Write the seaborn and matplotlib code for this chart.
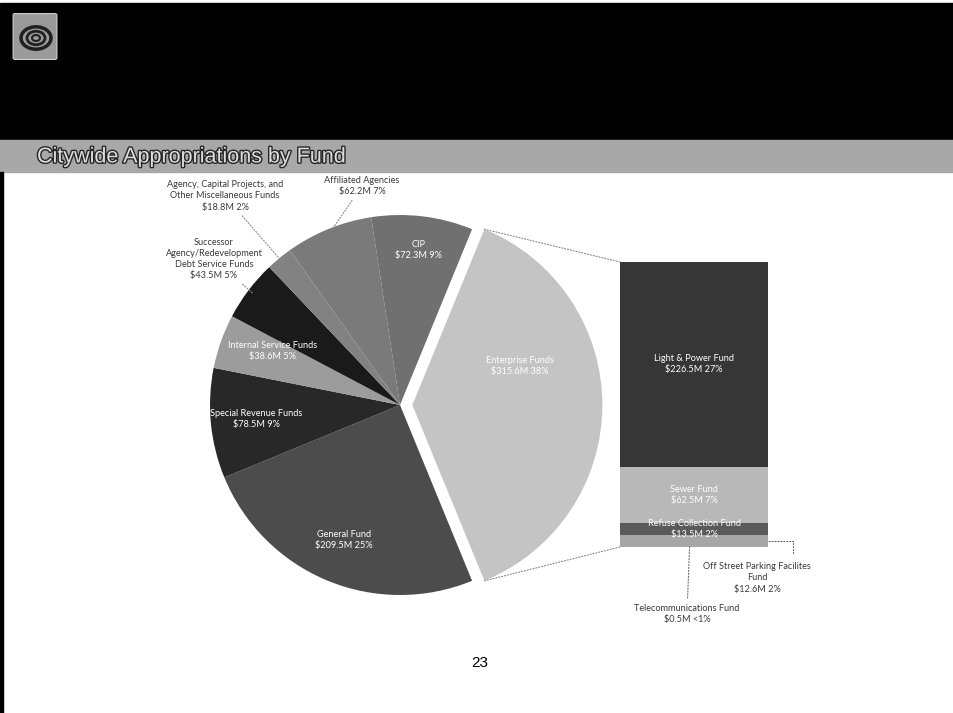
import numpy as np
import matplotlib
matplotlib.use("Agg")
import matplotlib.pyplot as plt
import seaborn as sns
from matplotlib.patches import Rectangle, FancyBboxPatch, Circle, ConnectionPatch
import matplotlib.patheffects as pe

# ---------------- data ----------------
pie_labels = ["Enterprise Funds", "General Fund", "Special Revenue Funds",
              "Internal Service Funds",
              "Successor\nAgency/Redevelopment\nDebt Service Funds",
              "Agency, Capital Projects, and\nOther Miscellaneous Funds",
              "Affiliated Agencies", "CIP"]
pie_values = [315.6, 209.5, 78.5, 38.6, 43.5, 18.8, 62.2, 72.3]
pie_pct = ["38%", "25%", "9%", "5%", "5%", "2%", "7%", "9%"]

bar_labels = ["Light & Power Fund", "Sewer Fund", "Refuse Collection Fund",
              "Off Street Parking Facilites\nFund", "Telecommunications Fund"]
bar_values = [226.5, 62.5, 13.5, 12.6, 0.5]
bar_pct = ["27%", "7%", "2%", "2%", "<1%"]

# ---------------- style ----------------
pie_colors = ["#c4c4c4", "#4c4c4c", "#282828", "#9c9c9c", "#1a1a1a",
              "#828282", "#7a7a7a", "#707070"]
bar_colors = ["#363636", "#b8b8b8", "#5a5a5a", "#a6a6a6", "#808080"]

sns.set_theme(style="white")
plt.rcParams["font.family"] = ["Lato", "DejaVu Sans"]

W, H = 954, 713
fig = plt.figure(figsize=(W / 100, H / 100), dpi=100)
fig.patch.set_facecolor("white")


def fp(px, py):
    return px / W, 1 - py / H


# header
fig.patches.append(Rectangle(fp(0, 140), 1, 137 / H, transform=fig.transFigure,
                             color="black", zorder=0))
fig.patches.append(Rectangle(fp(0, 172), 1, 32 / H, transform=fig.transFigure,
                             color="#a8a8a8", zorder=0))
fig.patches.append(Rectangle(fp(0, 713), 3 / W, (713 - 172) / H,
                             transform=fig.transFigure, color="black", zorder=0))
# logo
fig.patches.append(FancyBboxPatch(fp(15, 58), 40 / W, 43 / H,
                                  boxstyle="round,pad=0.002",
                                  transform=fig.transFigure,
                                  facecolor="#9a9a9a", edgecolor="#d0d0d0",
                                  lw=0.8, zorder=1))
for rr, lw in [(15, 2.5), (9, 2.0), (4, 1.5)]:
    cx, cy = fp(36, 38)
    fig.patches.append(Circle((cx, cy), rr / W, transform=fig.transFigure,
                              fill=False, edgecolor="#202020", lw=lw, zorder=2))

fig.text(37 / W, 1 - 157 / H, "Citywide Appropriations by Fund",
         fontsize=15.5, family=["Liberation Sans", "DejaVu Sans"],
         color="#dcdcdc", va="center", ha="left",
         path_effects=[pe.withStroke(linewidth=2, foreground="#262626")])
fig.text(480 / W, 1 - 663 / H, "23", fontsize=11,
         family=["Liberation Sans", "DejaVu Sans"], ha="center", va="center",
         color="black")

# ---------------- pie ----------------
R = 190
cxp, cyp = 400, 405
lim = 1.12
half = lim * R
ax = fig.add_axes([(cxp - half) / W, (H - cyp - half) / H, 2 * half / W, 2 * half / H])
total = sum(pie_values)
start = pie_values[0] / total * 180
explode = [0.065] + [0] * (len(pie_values) - 1)
wedges, _ = ax.pie(pie_values, colors=pie_colors, startangle=start,
                   counterclock=False, explode=explode,
                   wedgeprops=dict(linewidth=0))
ax.set_xlim(-lim, lim)
ax.set_ylim(-lim, lim)
ax.set_aspect("equal")
ax.axis("off")

lab_fs = 6.6
inside = {0: (20, 0.60), 1: (None, 0.77), 2: (None, 0.76), 3: (157, 0.73), 7: (None, 0.82)}
for i, (ang, d) in inside.items():
    w = wedges[i]
    a = (w.theta1 + w.theta2) / 2 if ang is None else ang
    x = w.center[0] + d * w.r * np.cos(np.radians(a))
    y = w.center[1] + d * w.r * np.sin(np.radians(a))
    ax.text(x, y, f"{pie_labels[i]}\n${pie_values[i]:.1f}M {pie_pct[i]}",
            ha="center", va="center", color="white", fontsize=lab_fs,
            linespacing=1.25)

outside = {4: (214, 259, 0.97), 5: (225, 196, 0.98), 6: (362, 186, 0.98)}
for i, (px, py, d) in outside.items():
    w = wedges[i]
    a = np.radians((w.theta1 + w.theta2) / 2)
    xy = (w.center[0] + d * w.r * np.cos(a), w.center[1] + d * w.r * np.sin(a))
    ax.annotate(f"{pie_labels[i]}\n${pie_values[i]:.1f}M {pie_pct[i]}",
                xy=xy, xytext=(px, H - py), textcoords="figure pixels",
                ha="center", va="center", fontsize=lab_fs, color="#3a3a3a",
                linespacing=1.3,
                arrowprops=dict(arrowstyle="-", linestyle=":", lw=0.8,
                                color="#888888", shrinkA=1, shrinkB=0))

# ---------------- bar ----------------
bx0, by0, bw, bh = 620, 262, 148, 285
axb = fig.add_axes([bx0 / W, (H - by0 - bh) / H, bw / W, bh / H])
btot = sum(bar_values)
bottom = btot
mids = []
for v, c in zip(bar_values, bar_colors):
    bottom -= v
    axb.bar(0, v, bottom=bottom, width=1.0, color=c, linewidth=0)
    mids.append(bottom + v / 2)
axb.set_xlim(-0.5, 0.5)
axb.set_ylim(0, btot)
axb.axis("off")

for i in range(3):
    axb.text(0, mids[i], f"{bar_labels[i]}\n${bar_values[i]:.1f}M {bar_pct[i]}",
             ha="center", va="center", color="white", fontsize=lab_fs,
             linespacing=1.25)

# off street parking label
axb.annotate("", xy=(0.5, mids[3]), xytext=(793, H - 553),
             textcoords="figure pixels",
             arrowprops=dict(arrowstyle="-", linestyle=":", lw=0.8, color="#666666",
                             shrinkA=0, shrinkB=0,
                             connectionstyle="angle,angleA=90,angleB=0,rad=0"))
fig.text(757 / W, 1 - 578 / H,
         f"{bar_labels[3]}\n${bar_values[3]:.1f}M {bar_pct[3]}",
         ha="center", va="center", fontsize=lab_fs, color="#3a3a3a",
         linespacing=1.3)
# telecom label
axb.annotate(f"{bar_labels[4]}\n${bar_values[4]:.1f}M {bar_pct[4]}",
             xy=(-0.03, 0), xytext=(687, H - 614), textcoords="figure pixels",
             ha="center", va="center", fontsize=lab_fs, color="#3a3a3a",
             linespacing=1.3,
             arrowprops=dict(arrowstyle="-", linestyle=":", lw=0.8, color="#666666",
                             shrinkA=2, shrinkB=0))

# connector lines pie -> bar
w0 = wedges[0]
for th, yb in [(w0.theta2, btot), (w0.theta1, 0)]:
    p = (w0.center[0] + w0.r * np.cos(np.radians(th)),
         w0.center[1] + w0.r * np.sin(np.radians(th)))
    con = ConnectionPatch(xyA=p, coordsA=ax.transData, xyB=(-0.5, yb),
                          coordsB=axb.transData, linestyle=":", lw=0.8,
                          color="#888888")
    fig.add_artist(con)

fig.savefig("out.png", dpi=100)
